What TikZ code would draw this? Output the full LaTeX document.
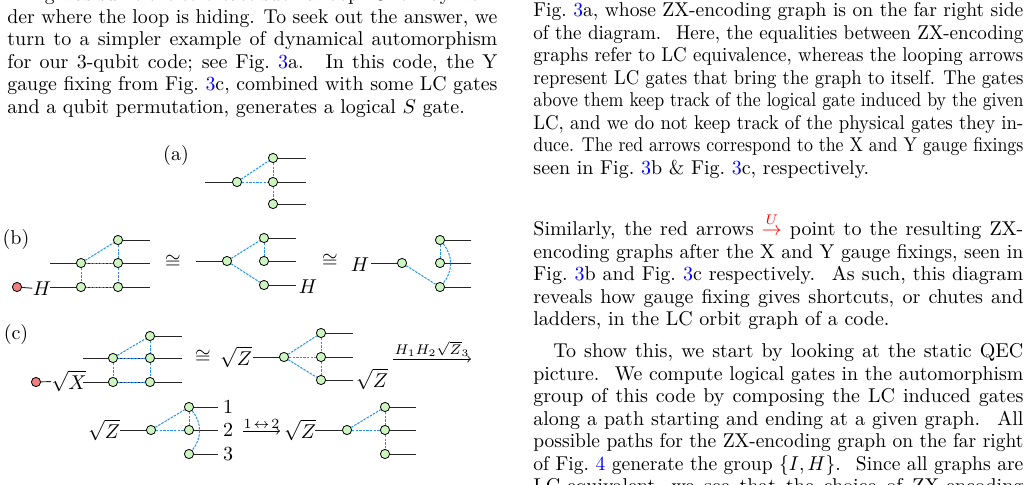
\documentclass[tikz,border=0pt]{standalone}
\usepackage{amsmath}
\usepackage{graphicx}
\newcommand\fr[1]{\textcolor{blue}{#1}}
\newsavebox\lnbox
\newcommand\jl[1]{\sbox\lnbox{#1}\ifdim\wd\lnbox>245pt\hbox{\resizebox{245pt}{\ht\lnbox}{\usebox\lnbox}}\else\hbox to 245pt{#1}\fi}
\newcommand\lastl[1]{\hbox{#1}}
\newcommand\para[1]{\vbox{\fontsize{10}{11.25}\selectfont\baselineskip=11.25pt\hsize=245pt\parindent=0pt #1}}
\definecolor{zgreen}{HTML}{CCF5C0}
\definecolor{zred}{HTML}{F08080}
\definecolor{hblue}{HTML}{1E90FF}
\begin{document}
\begin{tikzpicture}[x=0.5pt,y=-0.5pt,
  zs/.style={circle,draw=black,line width=0.4pt,fill=zgreen,minimum size=4.6pt,inner sep=0pt},
  xs/.style={circle,draw=black,line width=0.4pt,fill=zred,minimum size=4.6pt,inner sep=0pt},
  wire/.style={line width=0.45pt,black!85},
  he/.style={hblue,dashed,dash pattern=on 1.2pt off 0.6pt,line width=0.5pt},
  ptxt/.style={anchor=north west,inner sep=0pt},
  lab/.style={inner sep=0pt,font=\fontsize{10}{12}\selectfont},
  arr/.style={->,line width=0.4pt}]
\useasboundingbox (0,0) rectangle (1029,484);
% ---------- text ----------
\node[ptxt] (t1) at (7,-14) {\para{%
\jl{fixing was sufficient to create such a loop. One may won-}
\jl{der where the loop is hiding. To seek out the answer, we}
\jl{turn to a simpler example of dynamical automorphism}
\jl{for our 3-qubit code; see Fig.~\fr{3}a. \ In this code, the Y}
\jl{gauge fixing from Fig.~\fr{3}c, combined with some LC gates}
\lastl{and a qubit permutation, generates a logical $S$ gate.}}};
\node[ptxt] (t2) at (533,2) {\para{%
\jl{Fig.~\fr{3}a, whose ZX-encoding graph is on the far right side}
\jl{of the diagram. \ Here, the equalities between ZX-encoding}
\jl{graphs refer to LC equivalence, whereas the looping arrows}
\jl{represent LC gates that bring the graph to itself. The gates}
\jl{above them keep track of the logical gate induced by the given}
\jl{LC, and we do not keep track of the physical gates they in-}
\jl{duce. The red arrows correspond to the X and Y gauge fixings}
\lastl{seen in Fig.~\fr{3}b \& Fig.~\fr{3}c, respectively.}}};
\node[ptxt] (t3) at (533,221) {\para{%
\jl{Similarly, the red arrows \smash{$\color{red}\overset{U}{\to}$} point to the resulting ZX-}
\jl{encoding graphs after the X and Y gauge fixings, seen in}
\jl{Fig.~\fr{3}b and Fig.~\fr{3}c respectively. \ As such, this diagram}
\jl{reveals how gauge fixing gives shortcuts, or chutes and}
\lastl{ladders, in the LC orbit graph of a code.}}};
\node[ptxt] (t4) at (533,343) {\para{%
\jl{\hspace*{10pt}To show this, we start by looking at the static QEC}
\jl{picture. \ We compute logical gates in the automorphism}
\jl{group of this code by composing the LC induced gates}
\jl{along a path starting and ending at a given graph. \ All}
\jl{possible paths for the ZX-encoding graph on the far right}
\jl{of Fig.~\fr{4} generate the group $\{I,H\}$. \ Since all graphs are}
\jl{LC-equivalent, we see that the choice of ZX-encoding}}};
% ---------- (a) ----------
\node[lab] (la) at (176,155) {(a)};
\coordinate (aw) at (205,182);
\node[zs] (aL) at (237,182) {};
\node[zs] (aT) at (273,158) {};
\node[zs] (aM) at (273,182) {};
\node[zs] (aB) at (273,204) {};
\coordinate (aT2) at (306,158); \coordinate (aM2) at (306,182); \coordinate (aB2) at (306,204);
\draw[wire] (aw) -- (aL); \draw[wire] (aT) -- (aT2); \draw[wire] (aM) -- (aM2); \draw[wire] (aB) -- (aB2);
\draw[he] (aL) -- (aT); \draw[he] (aL) -- (aM); \draw[he] (aT) -- (aM); \draw[he] (aM) -- (aB);
% ---------- (b) ----------
\node[lab] (lb) at (16,239) {(b)};
\node[zs] (b1A) at (81,263) {};
\node[zs] (b1B) at (118,240) {};
\node[zs] (b1C) at (118,263) {};
\node[zs] (b1D) at (81,287) {};
\node[zs] (b1E) at (118,287) {};
\node[xs] (b1R) at (17,287) {};
\node[lab] (b1H) at (42,289) {$H$};
\coordinate (b1w1) at (50,263); \coordinate (b1w2) at (50,287);
\coordinate (b1o1) at (150,240); \coordinate (b1o2) at (150,263); \coordinate (b1o3) at (150,287);
\draw[wire] (b1w1) -- (b1A) -- (b1C) -- (b1o2);
\draw[wire] (b1B) -- (b1o1);
\draw[wire] (b1w2) -- (b1D) -- (b1E) -- (b1o3);
\draw[wire] (b1R) -- (b1H);
\draw[he] (b1A) -- (b1B); \draw[he] (b1A) -- (b1C); \draw[he] (b1A) -- (b1D);
\draw[he] (b1B) -- (b1C); \draw[he] (b1C) -- (b1E); \draw[he] (b1D) -- (b1E);
\node[lab] (bc1) at (173,262) {$\cong$};
\coordinate (b2w) at (196,261);
\node[zs] (b2L) at (227,261) {};
\node[zs] (b2T) at (264,238) {};
\node[zs] (b2M) at (264,261) {};
\node[zs] (b2B) at (264,285) {};
\coordinate (b2o1) at (296,238); \coordinate (b2o2) at (296,261); \coordinate (b2o3) at (296,285);
\node[lab] (b2H) at (308,287) {$H$};
\draw[wire] (b2w) -- (b2L); \draw[wire] (b2T) -- (b2o1); \draw[wire] (b2M) -- (b2o2); \draw[wire] (b2B) -- (b2o3);
\draw[he] (b2L) -- (b2T); \draw[he] (b2L) -- (b2B); \draw[he] (b2T) -- (b2M);
\node[lab] (bc2) at (330,261) {$\cong$};
\node[lab] (b3H) at (360,265) {$H$};
\coordinate (b3w) at (371,263);
\node[zs] (b3L) at (402,263) {};
\node[zs] (b3T) at (440,240) {};
\node[zs] (b3M) at (440,263) {};
\node[zs] (b3B) at (440,287) {};
\coordinate (b3o1) at (471,240); \coordinate (b3o2) at (471,263); \coordinate (b3o3) at (471,287);
\draw[wire] (b3w) -- (b3L); \draw[wire] (b3T) -- (b3o1); \draw[wire] (b3M) -- (b3o2); \draw[wire] (b3B) -- (b3o3);
\draw[he] (b3L) -- (b3B); \draw[he] (b3T) -- (b3M);
\draw[he] (b3T) to[bend left=40] (b3B);
% ---------- (c) ----------
\node[lab] (lc) at (16,334) {(c)};
\node[zs] (c1A) at (113,358) {};
\node[zs] (c1B) at (150,336) {};
\node[zs] (c1C) at (150,358) {};
\node[zs] (c1D) at (113,382) {};
\node[zs] (c1E) at (150,382) {};
\node[xs] (c1R) at (36,382) {};
\node[lab] (c1X) at (69,381) {$\sqrt{X}$};
\coordinate (c1w1) at (83,358); \coordinate (c1w2) at (83,382);
\coordinate (c1o1) at (182,336); \coordinate (c1o2) at (182,358); \coordinate (c1o3) at (182,382);
\draw[wire] (c1w1) -- (c1A) -- (c1C) -- (c1o2);
\draw[wire] (c1B) -- (c1o1);
\draw[wire] (c1w2) -- (c1D) -- (c1E) -- (c1o3);
\draw[wire] (c1R) -- (c1X);
\draw[he] (c1A) -- (c1B); \draw[he] (c1A) -- (c1C); \draw[he] (c1A) -- (c1D);
\draw[he] (c1B) -- (c1C); \draw[he] (c1C) -- (c1E); \draw[he] (c1D) -- (c1E);
\node[lab] (cc1) at (203,357) {$\cong$};
\node[lab] (c2Z) at (236,357) {$\sqrt{Z}$};
\coordinate (c2w) at (253,357);
\node[zs] (c2L) at (284,357) {};
\node[zs] (c2T) at (321,333) {};
\node[zs] (c2M) at (321,357) {};
\node[zs] (c2B) at (321,380) {};
\coordinate (c2o1) at (353,333); \coordinate (c2o2) at (353,357); \coordinate (c2o3) at (353,380);
\node[lab] (c2Z2) at (372,379) {$\sqrt{Z}$};
\draw[wire] (c2w) -- (c2L); \draw[wire] (c2T) -- (c2o1); \draw[wire] (c2M) -- (c2o2); \draw[wire] (c2B) -- (c2o3);
\draw[he] (c2L) -- (c2T); \draw[he] (c2L) -- (c2M); \draw[he] (c2L) -- (c2B);
\draw[he] (c2T) -- (c2M); \draw[he] (c2M) -- (c2B);
\coordinate (ca1s) at (393,359); \coordinate (ca1e) at (471,359);
\draw[arr] (ca1s) -- node[above=1pt,inner sep=0pt,font=\scriptsize] {$H_1H_2\sqrt{Z}_3$} (ca1e);
% row 2
\node[lab] (c3Z) at (104,430) {$\sqrt{Z}$};
\coordinate (c3w) at (120,430);
\node[zs] (c3L) at (151,430) {};
\node[zs] (c3T) at (189,407) {};
\node[zs] (c3M) at (189,430) {};
\node[zs] (c3B) at (189,454) {};
\coordinate (c3o1) at (218,407); \coordinate (c3o2) at (218,430); \coordinate (c3o3) at (218,454);
\node[lab] (n1) at (228,407) {1};
\node[lab] (n2) at (228,430) {2};
\node[lab] (n3) at (228,454) {3};
\draw[wire] (c3w) -- (c3L); \draw[wire] (c3T) -- (c3o1); \draw[wire] (c3M) -- (c3o2); \draw[wire] (c3B) -- (c3o3);
\draw[he] (c3L) -- (c3T); \draw[he] (c3L) -- (c3M); \draw[he] (c3T) -- (c3M);
\draw[he] (c3T) to[bend left=40] (c3B);
\coordinate (ca2s) at (243,431); \coordinate (ca2e) at (280,431);
\draw[arr] (ca2s) -- node[above=1pt,inner sep=0pt,font=\scriptsize] {$1\!\leftrightarrow\!2$} (ca2e);
\node[lab] (c4Z) at (300,430) {$\sqrt{Z}$};
\coordinate (c4w) at (315,430);
\node[zs] (c4L) at (347,430) {};
\node[zs] (c4T) at (385,407) {};
\node[zs] (c4M) at (385,430) {};
\node[zs] (c4B) at (385,454) {};
\coordinate (c4o1) at (416,407); \coordinate (c4o2) at (416,430); \coordinate (c4o3) at (416,454);
\draw[wire] (c4w) -- (c4L); \draw[wire] (c4T) -- (c4o1); \draw[wire] (c4M) -- (c4o2); \draw[wire] (c4B) -- (c4o3);
\draw[he] (c4L) -- (c4T); \draw[he] (c4L) -- (c4M); \draw[he] (c4T) -- (c4M); \draw[he] (c4M) -- (c4B);
\end{tikzpicture}
\end{document}
